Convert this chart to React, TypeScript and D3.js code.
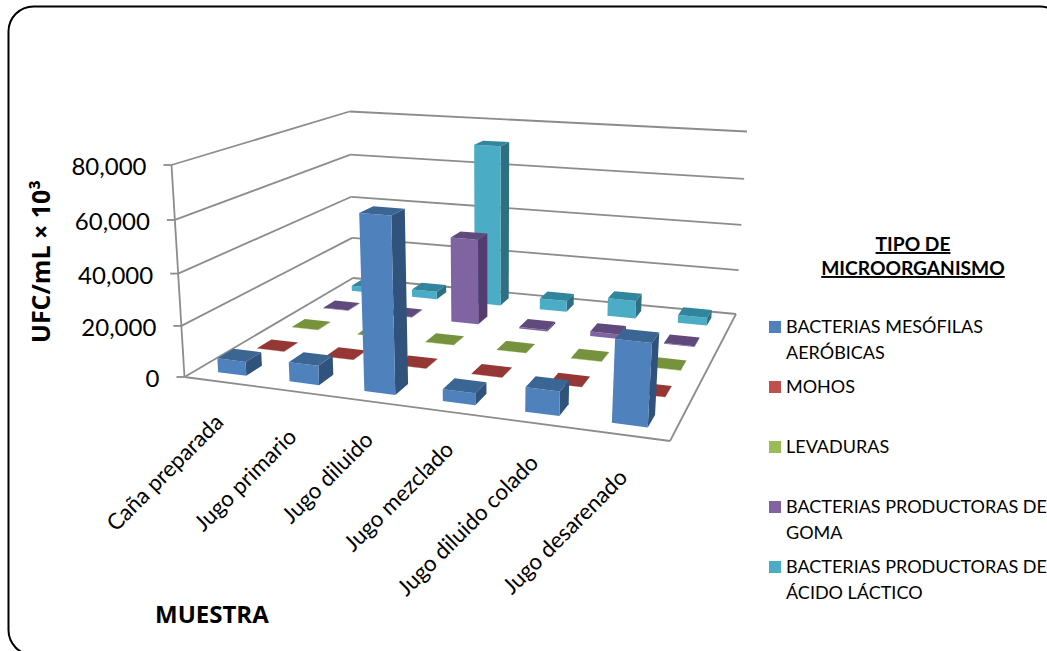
import React from "react";
import * as d3 from "d3";

const categories = ["Caña preparada", "Jugo primario", "Jugo diluido", "Jugo mezclado", "Jugo diluido colado", "Jugo desarenado"];
const seriesNames = [
  ["BACTERIAS MESÓFILAS", "AERÓBICAS"],
  ["MOHOS"],
  ["LEVADURAS"],
  ["BACTERIAS PRODUCTORAS DE", "GOMA"],
  ["BACTERIAS PRODUCTORAS DE", "ÁCIDO LÁCTICO"],
];
const mesofilas = [5500, 7500, 66000, 4500, 9000, 30000];
const mohos = [100, 100, 100, 100, 100, 100];
const levaduras = [150, 150, 150, 150, 150, 150];
const productorasGoma = [200, 200, 37000, 700, 2000, 300];
const acidoLactico = [2500, 3500, 71500, 5000, 8000, 3500];
const seriesValues = [mesofilas, mohos, levaduras, productorasGoma, acidoLactico];
const yTicks = [0, 20000, 40000, 60000, 80000];

const palette = [
  { front: "#4F81BD", top: "#3B6592", side: "#31527A", key: "#4F81BD" },
  { front: "#C0504D", top: "#953735", side: "#7A2E2C", key: "#C0504D" },
  { front: "#9BBB59", top: "#76923C", side: "#5F7A30", key: "#9BBB59" },
  { front: "#8064A2", top: "#604A7B", side: "#553C70", key: "#8064A2" },
  { front: "#4BACC6", top: "#31859C", side: "#2F6F82", key: "#4BACC6" },
];

type Pt = [number, number];

// Screen corners of the plot box, floor plane and ceiling plane: front-left, front-right, back-right, back-left.
const floorQuad: Pt[] = [[184.5, 377], [670, 441], [736, 314], [353, 278]];
const ceilingQuad: Pt[] = [[171.5, 165], [684, 203], [747, 131.5], [349.5, 111.5]];
const heightPerspective = 0.05;
// Drop of each rotated category label below the front edge.
const labelDrop = [42, 47, 40, 39, 41, 44];

// Homography from the unit square onto a quadrilateral.
function quadMap([p0, p1, p2, p3]: Pt[]) {
  const dx1 = p1[0] - p2[0], dx2 = p3[0] - p2[0], sx = p0[0] - p1[0] + p2[0] - p3[0];
  const dy1 = p1[1] - p2[1], dy2 = p3[1] - p2[1], sy = p0[1] - p1[1] + p2[1] - p3[1];
  const det = dx1 * dy2 - dx2 * dy1;
  const g = (sx * dy2 - dx2 * sy) / det;
  const h = (dx1 * sy - sx * dy1) / det;
  return (u: number, v: number): Pt => {
    const w = g * u + h * v + 1;
    return [
      ((p1[0] - p0[0] + g * p1[0]) * u + (p3[0] - p0[0] + h * p3[0]) * v + p0[0]) / w,
      ((p1[1] - p0[1] + g * p1[1]) * u + (p3[1] - p0[1] + h * p3[1]) * v + p0[1]) / w,
    ];
  };
}
const floorAt = quadMap(floorQuad);
const ceilingAt = quadMap(ceilingQuad);

function project(u: number, v: number, h: number): Pt {
  const t = h / (1 + heightPerspective * (1 - h));
  const a = floorAt(u, v), b = ceilingAt(u, v);
  return [a[0] + (b[0] - a[0]) * t, a[1] + (b[1] - a[1]) * t];
}

const xBand = d3.scaleBand<string>().domain(categories).range([0, 1]).paddingInner(0.6).paddingOuter(0.3);
const depthBand = d3.scaleBand<number>().domain(d3.range(seriesValues.length)).range([0, 1]).paddingInner(0.6).paddingOuter(0.3);
const zScale = d3.scaleLinear().domain([0, 80000]).range([0, 1]);

const poly = (pts: Pt[]) => pts.map((p) => p.map((n) => n.toFixed(2)).join(",")).join(" ");
const seg = (a: Pt, b: Pt) => ({ x1: a[0], y1: a[1], x2: b[0], y2: b[1] });

const AXIS = "#8C8C8C";
const SANS = "Lato, sans-serif";
const HEAVY = "'Open Sans', sans-serif";

function Bar({ cat, series }: { cat: number; series: number }) {
  const u0 = xBand(categories[cat])!;
  const u1 = u0 + xBand.bandwidth();
  const v0 = depthBand(series)!;
  const v1 = v0 + depthBand.bandwidth();
  const h = zScale(seriesValues[series][cat]);
  const c = palette[series];
  return (
    <g>
      <polygon fill={c.side} points={poly([project(u1, v0, 0), project(u1, v1, 0), project(u1, v1, h), project(u1, v0, h)])} />
      <polygon fill={c.front} points={poly([project(u0, v0, 0), project(u1, v0, 0), project(u1, v0, h), project(u0, v0, h)])} />
      <polygon fill={c.top} points={poly([project(u0, v0, h), project(u1, v0, h), project(u1, v1, h), project(u0, v1, h)])} />
    </g>
  );
}

export default function App() {
  const order = d3.range(seriesValues.length).reverse();
  return (
    <svg width={1047} height={651} style={{ position: "absolute", left: 0, top: 0, display: "block" }}>
      <rect x={8.5} y={6.5} width={1056.5} height={648.5} rx={25} fill="#fff" stroke="#000" strokeWidth={2} />

      {yTicks.map((t) => {
        const h = zScale(t);
        const a = project(0, 0, h), b = project(0, 1, h), c = project(1, 1, h);
        return (
          <g key={t} stroke={AXIS} strokeWidth={1.8} fill="none">
            <line {...seg(a, b)} />
            <line {...seg(b, c)} />
            <line x1={a[0] - 8} y1={a[1]} x2={a[0]} y2={a[1]} />
          </g>
        );
      })}
      <g stroke={AXIS} strokeWidth={1.8}>
        <line {...seg(project(0, 0, 0), project(0, 0, 1))} />
        <line {...seg(project(0, 0, 0), project(1, 0, 0))} />
        <line {...seg(project(1, 0, 0), project(1, 1, 0))} />
      </g>

      {order.map((s) => categories.map((_, i) => <Bar key={`${s}-${i}`} cat={i} series={s} />))}

      {yTicks.map((t) => {
        const a = project(0, 0, zScale(t));
        return (
          <text key={t} x={a[0] - 25} y={a[1] + 10} textAnchor="end" fontFamily={SANS} fontSize={24} fill="#000">
            {d3.format(",")(t)}
          </text>
        );
      })}

      {categories.map((c, i) => {
        const p = project(xBand(c)! + xBand.bandwidth() / 2, 0, 0);
        const ax = p[0] + 5;
        const ay = p[1] + labelDrop[i];
        return (
          <text key={c} transform={`translate(${ax},${ay}) rotate(-45)`} textAnchor="end" fontFamily={SANS} fontSize={22.4} fill="#000">
            {c}
          </text>
        );
      })}

      <text transform="translate(50,343) rotate(-90)" fontFamily={HEAVY} fontWeight={700} fontSize={25} fill="#000">
        UFC/mL × 10³
      </text>
      <text x={155} y={623} fontFamily={HEAVY} fontWeight={700} fontSize={24} fill="#000">
        MUESTRA
      </text>

      <g fontFamily={SANS} fontWeight={700} fontSize={19.2} fill="#000" textAnchor="middle" textDecoration="underline">
        <text x={913} y={251}>TIPO DE</text>
        <text x={913} y={275}>MICROORGANISMO</text>
      </g>

      {seriesNames.map((lines, s) => (
        <g key={s}>
          <rect x={769} y={321 + s * 60} width={12} height={12} fill={palette[s].key} />
          {lines.map((l, j) => (
            <text key={j} x={786} y={333 + s * 60 + j * 26} fontFamily={SANS} fontSize={18} fill="#000">
              {l}
            </text>
          ))}
        </g>
      ))}
    </svg>
  );
}
